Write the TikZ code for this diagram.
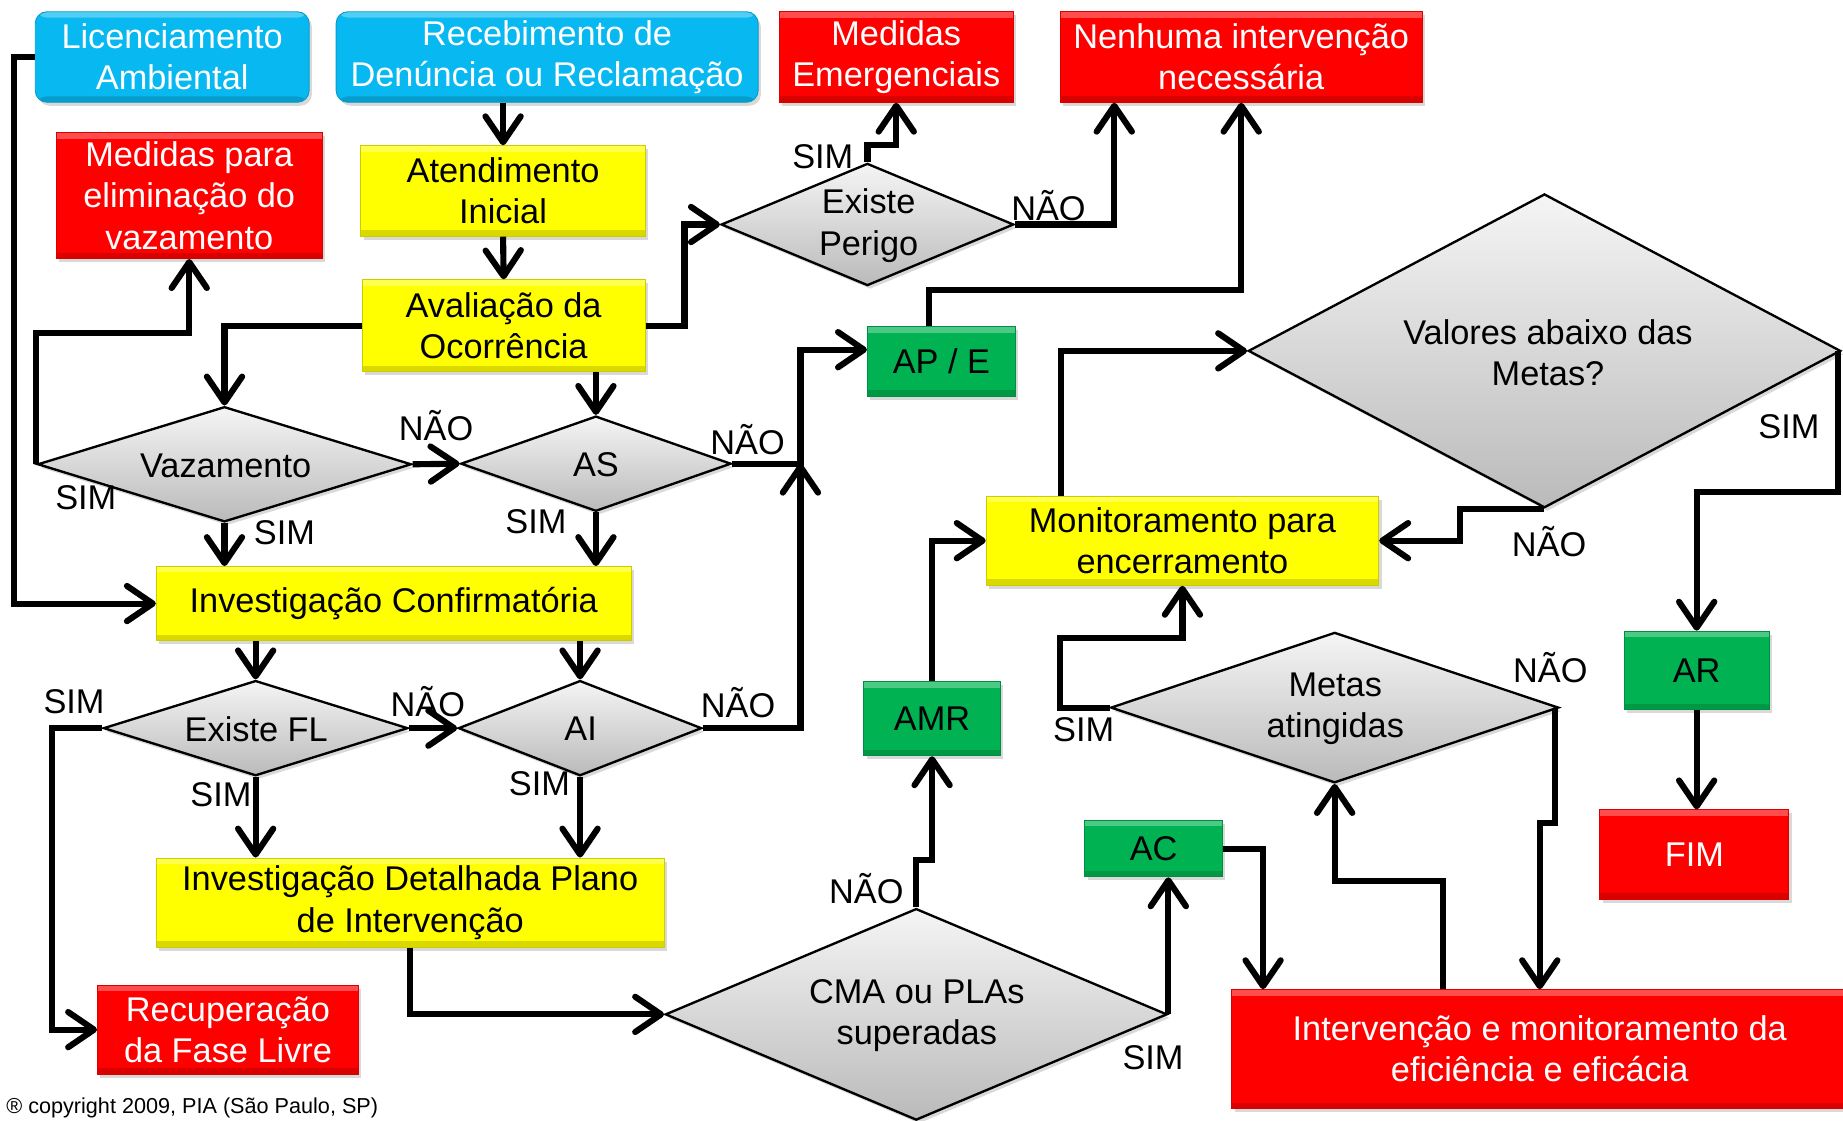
\documentclass[tikz,border=0pt]{standalone}
\usepackage{fontspec}
\setmainfont{Liberation Sans}
\usetikzlibrary{arrows.meta,shapes.geometric,calc,shadows}
\definecolor{cyanbox}{RGB}{8,184,240}
\definecolor{redbox}{RGB}{255,0,0}
\definecolor{yelbox}{RGB}{255,255,0}
\definecolor{grnbox}{RGB}{0,178,82}
\begin{document}
\begin{tikzpicture}[x=0.5pt,y=-0.5pt,
  every node/.style={font=\fontsize{14.6}{17.5}\selectfont},
  bevel/.style={path picture={
     \fill[white,opacity=0.3] (path picture bounding box.north west) rectangle ([yshift=-2.5pt]path picture bounding box.north east);
     \fill[black,opacity=0.15] (path picture bounding box.south west) rectangle ([yshift=2.5pt]path picture bounding box.south east);}},
  box/.style={rectangle, inner sep=0pt, align=center, bevel,
     drop shadow={shadow xshift=1.2pt,shadow yshift=-1.5pt,opacity=0.3}},
  bluebox/.style={box, rounded corners=5pt, fill=cyanbox, draw=cyanbox!85!black, line width=0.4pt, text=white},
  redbox/.style={box, fill=redbox, draw=redbox!85!black, line width=0.4pt, text=white},
  yelbox/.style={box, fill=yelbox, draw=yelbox!80!black, line width=0.4pt, text=black},
  grnbox/.style={box, fill=grnbox, draw=grnbox!80!black, line width=0.4pt, text=black},
  sz/.style 2 args={minimum width=#1, minimum height=#2},
  dia/.style={diamond, inner sep=0pt, draw=black, line width=1pt,
     top color=black!4, bottom color=black!27,
     drop shadow={shadow xshift=1.2pt,shadow yshift=-1.5pt,opacity=0.3}},
  dtext/.style={align=center, inner sep=0pt},
  lab/.style={inner sep=0pt},
  conn/.style={line width=2.6pt, -{Straight Barb[length=11pt,width=15pt,round]}}
]
\useasboundingbox (0,0) rectangle (1568,953);

% ---------- boxes ----------
\node[bluebox, sz={116.5pt}{38.5pt}] (lic) at (146.5,48.5) {Licenciamento\\Ambiental};
\node[bluebox, sz={179.5pt}{38.5pt}] (rec) at (465.5,48.5) {Recebimento de\\Denúncia ou Reclamação};
\node[redbox, sz={99.5pt}{38.5pt}] (me) at (762.5,48.5) {Medidas\\Emergenciais};
\node[redbox, sz={154pt}{38.5pt}] (ni) at (1056,48.5) {Nenhuma intervenção\\necessária};
\node[redbox, sz={113pt}{53.5pt}] (mpe) at (161,166.5) {Medidas para\\eliminação do\\vazamento};
\node[yelbox, sz={121pt}{38.5pt}] (ati) at (428,162.5) {Atendimento\\Inicial};
\node[yelbox, sz={120.5pt}{39pt}] (aval) at (428.5,277) {Avaliação da\\Ocorrência};
\node[grnbox, sz={63pt}{29.5pt}] (ape) at (801,307.5) {AP / E};
\node[yelbox, sz={167pt}{38pt}] (mon) at (1006,460) {Monitoramento para\\encerramento};
\node[yelbox, sz={202pt}{31.5pt}] (ic) at (335,513.5) {Investigação Confirmatória};
\node[grnbox, sz={58pt}{31.5pt}] (amr) at (793,611.5) {AMR};
\node[grnbox, sz={61.5pt}{33.5pt}] (ar) at (1443.5,570.5) {AR};
\node[redbox, sz={80.5pt}{38pt}] (fim) at (1441.5,727) {FIM};
\node[grnbox, sz={58.5pt}{24pt}] (ac) at (981.5,722) {AC};
\node[yelbox, sz={216pt}{38pt}] (idp) at (349,768) {Investigação Detalhada Plano\\de Intervenção};
\node[redbox, sz={111pt}{38pt}] (rfl) at (194,876) {Recuperação\\da Fase Livre};
\node[redbox, sz={262pt}{50.5pt}] (imon) at (1310,892.5) {Intervenção e monitoramento da\\eficiência e eficácia};

% ---------- decisions ----------
\node[dia, sz={124.5pt}{52pt}] (ep) at (738,191) {};
\node[dtext] (ep-t) at (739,192) {Existe\\Perigo};
\node[dia, sz={252pt}{133.5pt}] (va) at (1314,298.5) {};
\node[dtext] (va-t) at (1317,300) {Valores abaixo das\\Metas?};
\node[dia, sz={159pt}{49pt}] (vz) at (191,395) {};
\node[dtext] (vz-t) at (192,396) {Vazamento};
\node[dia, sz={115pt}{40.5pt}] (as) at (507,394.5) {};
\node[dtext] (as-t) at (507,395) {AS};
\node[dia, sz={129.5pt}{40.5pt}] (fl) at (217.5,619.5) {};
\node[dtext] (fl-t) at (218,620) {Existe FL};
\node[dia, sz={103.5pt}{40.5pt}] (ai) at (493.5,619.5) {};
\node[dtext] (ai-t) at (494,620) {AI};
\node[dia, sz={190.5pt}{64pt}] (ma) at (1135.5,602) {};
\node[dtext] (ma-t) at (1136,603) {Metas\\atingidas};
\node[dia, sz={213.5pt}{90pt}] (cma) at (779.5,863) {};
\node[dtext] (cma-t) at (780,864) {CMA ou PLAs\\superadas};

% ---------- connectors ----------
\coordinate (jn) at ($(as.east)+(58,0)$);
\draw[conn] (lic.west) -- ++(-18,0) |- (ic.west);
\draw[conn] (ati.north |- rec.south) -- (ati.north);
\draw[conn] (ati.south) -- (aval.north);
\draw[conn] (aval.west) -| (vz.north);
\draw[conn] (as.north |- aval.south) -- (as.north);
\draw[conn] (aval.east) -- ++(33,0) |- (ep.west);
\draw[conn] (ep.north) -- ++(0,-15) -| (me.south);
\draw[conn] (ep.east) -| ($(ni.south)+(-108,0)$);
\draw[conn] ($(ape.north)+(-11,0)$) -- ++(0,-31) -| (ni.south);
\draw[conn] (vz.west) -- ++(0,-112) -| (mpe.south);
\draw[conn] (vz.south) -- (vz.south |- ic.north);
\draw[conn] (vz.east) -- (as.west);
\draw[conn] (as.south) -- (as.south |- ic.north);
\draw[conn] (as.east) -- (jn) |- ($(ape.west)+(0,-10)$);
\draw[conn] (ai.east) -| (jn);
\draw[conn] (fl.north |- ic.south) -- (fl.north);
\draw[conn] (ai.north |- ic.south) -- (ai.north);
\draw[conn] (fl.west) -- ++(-43,0) |- (rfl.west);
\draw[conn] (fl.east) -- (ai.west);
\draw[conn] (fl.south) -- (fl.south |- idp.north);
\draw[conn] (ai.south) -- (ai.south |- idp.north);
\draw[conn] (idp.south) |- (cma.west);
\draw[conn] (cma.north) -- ++(0,-40) -| (amr.south);
\draw[conn] (cma.east) -- (cma.east |- ac.south);
\draw[conn] (ac.east) -| ($(imon.north west)+(27,0)$);
\draw[conn] (amr.north) |- (mon.west);
\draw[conn] ($(mon.north west)+(64,0)$) |- (va.west);
\draw[conn] (va.south) -- ++(-72,0) |- (mon.east);
\draw[conn] ($(va.east)+(-3,0)$) -- ++(0,120) -| (ar.north);
\draw[conn] (ar.south) -- (ar.south |- fim.north);
\draw[conn] (ma.west) -- ++(-42,0) -- ++(0,-59) -| (mon.south);
\draw[conn] ($(ma.east)+(-4,0)$) -- ++(0,98) -| (imon.north);
\draw[conn] ($(imon.north west)+(180,0)$) -- ++(0,-92) -| (ma.south);

% ---------- answers ----------
\node[lab] (l-ep-s) at (700,133) {SIM};
\node[lab] (l-ep-n) at (892,175) {NÃO};
\node[lab] (l-vz-s1) at (73,423) {SIM};
\node[lab] (l-vz-s2) at (242,453) {SIM};
\node[lab] (l-vz-n) at (371,362) {NÃO};
\node[lab] (l-as-n) at (636,374) {NÃO};
\node[lab] (l-as-s) at (456,444) {SIM};
\node[lab] (l-fl-s1) at (63,597) {SIM};
\node[lab] (l-fl-n) at (364,597) {NÃO};
\node[lab] (l-ai-n) at (628,598) {NÃO};
\node[lab] (l-fl-s2) at (188,676) {SIM};
\node[lab] (l-ai-s) at (459,667) {SIM};
\node[lab] (l-cma-n) at (737,756) {NÃO};
\node[lab] (l-cma-s) at (981,900) {SIM};
\node[lab] (l-ma-s) at (922,621) {SIM};
\node[lab] (l-ma-n) at (1319,568) {NÃO};
\node[lab] (l-va-n) at (1318,461) {NÃO};
\node[lab] (l-va-s) at (1522,363) {SIM};

\node[anchor=west, inner sep=0pt, font=\fontsize{9.2}{11}\selectfont] (cpy) at (5,943) {® copyright 2009, PIA (São Paulo, SP)};
\end{tikzpicture}
\end{document}
